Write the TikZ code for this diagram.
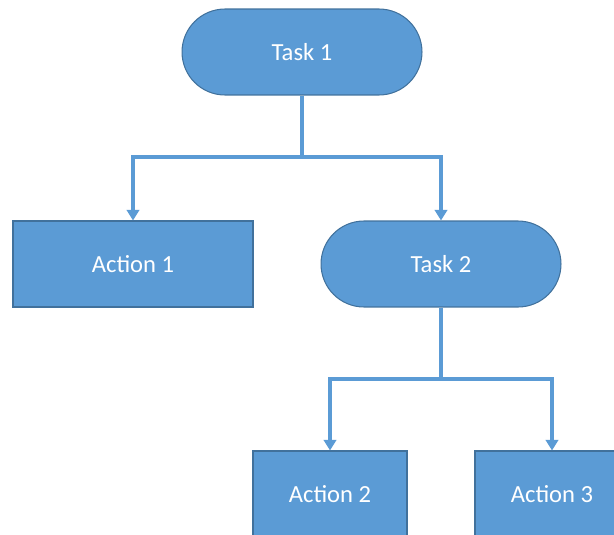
\documentclass[tikz,border=0pt]{standalone}
\usepackage{fontspec}
\setmainfont{Carlito}
\usetikzlibrary{arrows.meta}
\definecolor{boxblue}{HTML}{5B9BD5}
\definecolor{edgeblue}{HTML}{41719C}
\begin{document}
\begin{tikzpicture}[x=0.02cm, y=-0.02cm,
    task/.style = {draw=edgeblue, line width=0.6pt, fill=boxblue, text=white,
        rounded corners=8.6mm, minimum width=4.8cm, minimum height=1.72cm,
        font=\fontsize{14}{17}\selectfont},
    action/.style = {draw=edgeblue, line width=0.6pt, fill=boxblue, text=white,
        minimum height=1.72cm, font=\fontsize{14}{17}\selectfont},
    conn/.style = {draw=boxblue, line width=2.2pt,
        -{Triangle[width=7pt,length=6pt]}}]
    \useasboundingbox (0,0) rectangle (614,534);
    \clip (0,0) rectangle (614,534);

    \node[task] (T1) at (302,52) {Task 1};
    \node[action, minimum width=4.8cm] (A1) at (133,264) {Action 1};
    \node[task] (T2) at (441,264) {Task 2};
    \node[action, minimum width=3.08cm] (A2) at (330,494) {Action 2};
    \node[action, minimum width=3.08cm] (A3) at (552,494) {Action 3};

    \coordinate (J1) at (302,157);
    \coordinate (J2) at (441,379);
    \draw[boxblue, line width=2.2pt] (T1.south) -- (J1);
    \draw[conn] (J1) -| (A1.north);
    \draw[conn] (J1) -| (T2.north);
    \draw[boxblue, line width=2.2pt] (T2.south) -- (J2);
    \draw[conn] (J2) -| (A2.north);
    \draw[conn] (J2) -| (A3.north);
\end{tikzpicture}
\end{document}
